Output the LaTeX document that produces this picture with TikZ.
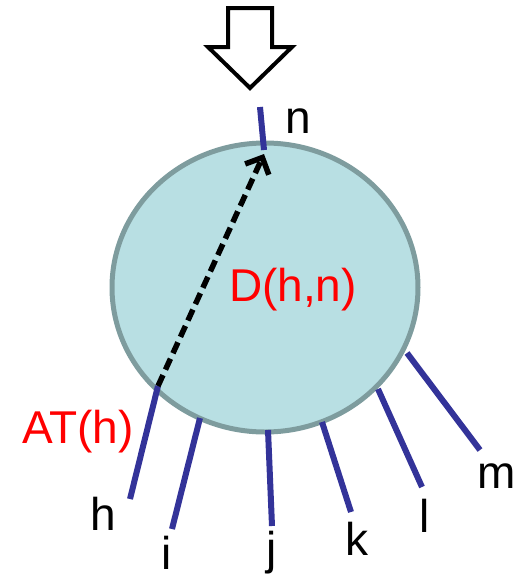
\documentclass[tikz,border=0pt]{standalone}
\usepackage{fontspec}
\setmainfont{Liberation Sans}
\usetikzlibrary{shapes.geometric,arrows.meta}
\definecolor{fillc}{HTML}{B8DFE3}
\definecolor{edgec}{HTML}{7E9C9E}
\definecolor{wire}{HTML}{333399}
\tikzset{
  lbl/.style={font=\fontsize{46}{50}\selectfont, inner sep=0pt},
  redlbl/.style={lbl, text=red},
  wireline/.style={draw=wire, line width=6pt, line cap=butt},
}
\begin{document}
\begin{tikzpicture}[x=1pt,y=-1pt]
\useasboundingbox (0,0) rectangle (520,579);
% big outline arrow
\draw[line width=4pt, line join=miter, fill=white]
  (228,8) -- (272,8) -- (272,47) -- (292,47) -- (250,88) -- (208,47) -- (228,47) -- cycle;
% ellipse
\node[ellipse, draw=edgec, fill=fillc, line width=5pt, minimum width=306pt, minimum height=289pt, inner sep=0pt] (D) at (265,287.5) {};
% coordinates
\coordinate (ntop) at (260,107);
\coordinate (nbot) at (264,150);
\coordinate (hin) at (158,386);
\coordinate (hout) at (130,499);
\coordinate (iin) at (200,418);
\coordinate (iout) at (172,529);
\coordinate (jin) at (268,430);
\coordinate (jout) at (272,526);
\coordinate (kin) at (322,422);
\coordinate (kout) at (351,512);
\coordinate (lin) at (378,389);
\coordinate (lout) at (422,487);
\coordinate (min) at (407,353);
\coordinate (mout) at (480,450);
\coordinate (tip) at (264,154);
% wires
\draw[wireline] (ntop) -- (nbot);
\draw[wireline] (hin) -- (hout);
\draw[wireline] (iin) -- (iout);
\draw[wireline] (jin) -- (jout);
\draw[wireline] (kin) -- (kout);
\draw[wireline] (lin) -- (lout);
\draw[wireline] (min) -- (mout);
% dashed arrow
\draw[line width=5.5pt, dash pattern=on 12pt off 6pt, -{Straight Barb[length=13pt,width=26pt,line width=5.5pt]}] (hin) -- (tip);
% labels
\node[lbl] (ln) at (298,121) {n};
\node[lbl] (lh) at (103,514) {h};
\node[lbl] (li) at (167,553) {i};
\node[lbl] (lj) at (272,553) {j};
\node[lbl] (lk) at (357,539) {k};
\node[lbl] (ll) at (425,516) {l};
\node[lbl] (lm) at (497,476) {m};
\node[redlbl] (at) at (78,432) {AT(h)};
\node[redlbl] (dhn) at (293,290) {D(h,n)};
\end{tikzpicture}
\end{document}
